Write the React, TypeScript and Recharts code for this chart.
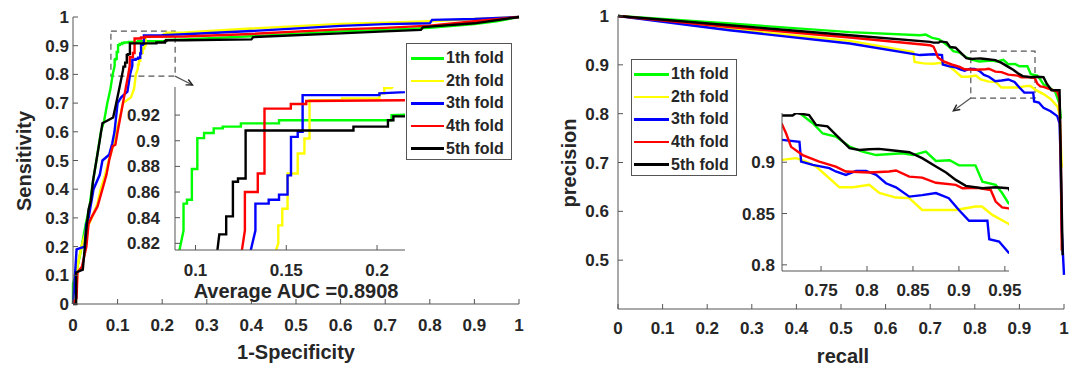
import React from 'react';
import { LineChart, Line, XAxis, YAxis, ReferenceArea, ReferenceLine } from 'recharts';

type Pt = [number, number];

const foldNames = ['1th fold', '2th fold', '3th fold', '4th fold', '5th fold'];
const foldColors = ['#00ff00', '#ffff00', '#0000ff', '#ff0000', '#000000'];

// ROC curves (x = 1-specificity, y = sensitivity)
const rocFold1: Pt[] = [
  [0, 0], [0, 0.07], [0.007, 0.108], [0.018, 0.188], [0.029, 0.282], [0.037, 0.339], [0.044, 0.42],
  [0.0525, 0.5], [0.0625, 0.6], [0.07, 0.64], [0.077, 0.7], [0.084, 0.75], [0.089, 0.8], [0.0934, 0.83],
  [0.0934, 0.851], [0.0953, 0.851], [0.0953, 0.854], [0.098, 0.854], [0.098, 0.878], [0.101, 0.878],
  [0.101, 0.902], [0.1047, 0.902], [0.1047, 0.906], [0.11, 0.906], [0.11, 0.9096], [0.115, 0.9096],
  [0.115, 0.911], [0.125, 0.911], [0.125, 0.9135], [0.146, 0.9135], [0.146, 0.916], [0.208, 0.916],
  [0.208, 0.92], [0.25, 0.922], [0.4, 0.933], [0.6, 0.95], [0.7, 0.955], [0.8, 0.962], [0.9, 0.975],
  [0.95, 0.985], [1, 1],
];
const rocFold2: Pt[] = [
  [0, 0], [0.008, 0.05], [0.01, 0.13], [0.019, 0.2], [0.03, 0.26], [0.042, 0.3], [0.055, 0.35],
  [0.062, 0.4], [0.072, 0.45], [0.08, 0.5], [0.09, 0.55], [0.097, 0.6], [0.105, 0.65], [0.112, 0.7],
  [0.13, 0.72], [0.137, 0.75], [0.141, 0.8], [0.1456, 0.82], [0.1456, 0.834], [0.1478, 0.834],
  [0.1478, 0.847], [0.1507, 0.847], [0.1507, 0.8745], [0.1563, 0.8745], [0.1563, 0.89], [0.16, 0.89],
  [0.16, 0.9018], [0.1628, 0.9018], [0.1628, 0.9317], [0.1807, 0.9317], [0.1807, 0.933], [0.2013, 0.933],
  [0.2013, 0.937], [0.204, 0.937], [0.204, 0.941], [0.208, 0.941], [0.21, 0.945], [0.25, 0.946],
  [0.4, 0.96], [0.6, 0.976], [0.7, 0.98], [0.8, 0.985], [0.9, 0.993], [1, 1],
];
const rocFold3: Pt[] = [
  [0, 0], [0.004, 0.09], [0.008, 0.19], [0.026, 0.2], [0.03, 0.28], [0.035, 0.3], [0.046, 0.4],
  [0.06, 0.45], [0.066, 0.5], [0.081, 0.52], [0.088, 0.56], [0.093, 0.6], [0.1, 0.7], [0.108, 0.72],
  [0.122, 0.74], [0.128, 0.8], [0.133, 0.83], [0.133, 0.851], [0.1403, 0.851], [0.1403, 0.854],
  [0.146, 0.854], [0.146, 0.858], [0.1507, 0.858], [0.1507, 0.873], [0.1526, 0.873], [0.1526, 0.903],
  [0.1563, 0.903], [0.1563, 0.907], [0.159, 0.907], [0.159, 0.9356], [0.2013, 0.9356], [0.2013, 0.937],
  [0.25, 0.94], [0.4, 0.951], [0.6, 0.969], [0.7, 0.975], [0.8, 0.978], [0.805, 0.99], [0.9, 0.993], [1, 1],
];
const rocFold4: Pt[] = [
  [0, 0], [0.008, 0.02], [0.01, 0.11], [0.02, 0.13], [0.03, 0.2], [0.035, 0.28], [0.041, 0.3],
  [0.055, 0.34], [0.066, 0.4], [0.075, 0.45], [0.081, 0.5], [0.089, 0.55], [0.095, 0.555], [0.1, 0.6],
  [0.106, 0.65], [0.112, 0.7], [0.118, 0.75], [0.124, 0.8], [0.1272, 0.83], [0.1272, 0.86], [0.1343, 0.86],
  [0.1343, 0.8745], [0.138, 0.8745], [0.138, 0.925], [0.1525, 0.925], [0.1525, 0.9286], [0.161, 0.9286],
  [0.161, 0.931], [0.25, 0.932], [0.4, 0.941], [0.6, 0.957], [0.7, 0.962], [0.8, 0.97], [0.9, 0.985], [1, 1],
];
const rocFold5: Pt[] = [
  [0, 0], [0.007, 0], [0.007, 0.11], [0.022, 0.12], [0.026, 0.19], [0.03, 0.26], [0.035, 0.33],
  [0.04, 0.36], [0.045, 0.43], [0.0525, 0.5], [0.06, 0.57], [0.066, 0.63], [0.09, 0.65], [0.097, 0.7],
  [0.105, 0.76], [0.112, 0.814], [0.1131, 0.827], [0.1169, 0.827], [0.1169, 0.841], [0.1206, 0.841],
  [0.1206, 0.868], [0.1234, 0.868], [0.1234, 0.8706], [0.1276, 0.8706], [0.1276, 0.908], [0.187, 0.908],
  [0.187, 0.911], [0.206, 0.911], [0.206, 0.916], [0.209, 0.916], [0.209, 0.919], [0.25, 0.919],
  [0.4, 0.922], [0.404, 0.93], [0.6, 0.943], [0.7, 0.95], [0.78, 0.955], [0.785, 0.965], [0.9, 0.978], [1, 1],
];

// precision-recall curves (x = recall, y = precision)
const prFold1: Pt[] = [
  [0, 1], [0.25, 0.9845], [0.52, 0.967], [0.677, 0.9605], [0.69, 0.962], [0.705, 0.955], [0.72, 0.952],
  [0.7265, 0.948], [0.741, 0.938], [0.7518, 0.928], [0.766, 0.925], [0.781, 0.9153], [0.795, 0.9104],
  [0.81, 0.907], [0.8387, 0.9088], [0.85, 0.907], [0.864, 0.9104], [0.875, 0.9013], [0.89, 0.902],
  [0.9, 0.897], [0.918, 0.897], [0.9256, 0.881], [0.94, 0.878], [0.947, 0.87], [0.954, 0.86],
  [0.965, 0.855], [0.98, 0.845], [0.99, 0.82], [0.993, 0.79],
];
const prFold2: Pt[] = [
  [0, 1], [0.25, 0.9735], [0.52, 0.949], [0.662, 0.926], [0.665, 0.906], [0.685, 0.903], [0.7073, 0.9023],
  [0.7228, 0.904], [0.7337, 0.9007], [0.7446, 0.8958], [0.759, 0.8844], [0.77, 0.8756], [0.785, 0.8756],
  [0.8025, 0.878], [0.8134, 0.87], [0.8315, 0.8656], [0.846, 0.865], [0.86, 0.8535], [0.8966, 0.8535],
  [0.918, 0.8568], [0.925, 0.8568], [0.9364, 0.8487], [0.954, 0.84], [0.97, 0.83], [0.985, 0.815],
  [0.99, 0.8], [0.995, 0.69],
];
const prFold3: Pt[] = [
  [0, 1], [0.25, 0.9708], [0.52, 0.9436], [0.677, 0.92], [0.7073, 0.9218], [0.7265, 0.92], [0.7283, 0.9007],
  [0.741, 0.8974], [0.759, 0.8942], [0.766, 0.891], [0.777, 0.8877], [0.788, 0.8915], [0.799, 0.8915],
  [0.81, 0.8877], [0.8206, 0.8795], [0.8315, 0.8756], [0.846, 0.8665], [0.86, 0.868], [0.875, 0.87],
  [0.889, 0.865], [0.9, 0.8535], [0.911, 0.843], [0.931, 0.843], [0.933, 0.825], [0.9437, 0.8227],
  [0.954, 0.812], [0.97, 0.805], [0.985, 0.795], [0.99, 0.78], [0.992, 0.72], [0.995, 0.56], [1, 0.47],
];
const prFold4: Pt[] = [
  [0, 1], [0.25, 0.9775], [0.52, 0.956], [0.7, 0.94], [0.7073, 0.9374], [0.712, 0.928], [0.7174, 0.915],
  [0.73, 0.907], [0.748, 0.9007], [0.766, 0.8958], [0.777, 0.891], [0.8025, 0.89], [0.824, 0.891],
  [0.8315, 0.892], [0.846, 0.886], [0.86, 0.885], [0.875, 0.88], [0.8966, 0.878], [0.904, 0.8747],
  [0.92, 0.875], [0.9346, 0.873], [0.94, 0.8617], [0.947, 0.856], [0.954, 0.855], [0.97, 0.85],
  [0.985, 0.845], [0.99, 0.83], [0.993, 0.7], [0.995, 0.52],
];
const prFold5: Pt[] = [
  [0, 1], [0.25, 0.981], [0.52, 0.9605], [0.7, 0.947], [0.7073, 0.9455], [0.719, 0.9455], [0.7228, 0.948],
  [0.737, 0.946], [0.7446, 0.9364], [0.757, 0.935], [0.766, 0.927], [0.781, 0.9137], [0.7917, 0.912],
  [0.8025, 0.9127], [0.813, 0.913], [0.824, 0.912], [0.846, 0.9098], [0.86, 0.904], [0.875, 0.8958],
  [0.886, 0.89], [0.8966, 0.8828], [0.9075, 0.877], [0.9256, 0.8747], [0.94, 0.8756], [0.954, 0.8747],
  [0.961, 0.862], [0.972, 0.848], [0.99, 0.848], [0.993, 0.7], [0.997, 0.51],
];

const rocFolds = [rocFold1, rocFold2, rocFold3, rocFold4, rocFold5];
const prFolds = [prFold1, prFold2, prFold3, prFold4, prFold5];

const unitTicks = [0, 0.1, 0.2, 0.3, 0.4, 0.5, 0.6, 0.7, 0.8, 0.9, 1];
const prYTicks = [0.5, 0.6, 0.7, 0.8, 0.9, 1];
const rocInsetXTicks = [0.1, 0.15, 0.2];
const rocInsetYTicks = [0.82, 0.84, 0.86, 0.88, 0.9, 0.92];
const prInsetXTicks = [0.75, 0.8, 0.85, 0.9, 0.95];
const prInsetYTicks = [0.8, 0.85, 0.9];

const rocInsetX = [0.0887, 0.2154];
const rocInsetY = [0.8148, 0.9419];
const prInsetX = [0.7075, 0.9545];
const prInsetY = [0.794, 0.948];
const rocZoomBox = { x1: 0.085, x2: 0.229, y1: 0.794, y2: 0.951 };
const prZoomBox = { x1: 0.791, x2: 0.935, y1: 0.832, y2: 0.928 };
const aucLabel = 'Average AUC =0.8908';

const FONT = "'Liberation Sans', Arial, Helvetica, sans-serif";
const INK = '#262626';
const AX = '#555555';
const tickStyle = { fill: INK, fontSize: 17, fontWeight: 700, fontFamily: FONT };
const fmt = (v: number) => String(Number(v.toFixed(2)));
const toPts = (d: Pt[]) => d.map(([x, y]) => ({ x, y }));
const noTick = () => <g />;

function frame(
  xDomain: number[], yDomain: number[], xTicks: number[], yTicks: number[],
  yWidth: number, xHeight: number, xMargin: number, yMargin: number, clip: boolean,
) {
  return [
    <XAxis key="xb" dataKey="x" type="number" domain={xDomain} ticks={xTicks} interval={0}
      allowDataOverflow={clip} height={xHeight} tickSize={-5} tickMargin={xMargin}
      tickFormatter={fmt} tick={tickStyle} axisLine={{ stroke: AX }} tickLine={{ stroke: AX }} />,
    <XAxis key="xt" xAxisId="t" orientation="top" type="number" domain={xDomain} ticks={xTicks}
      interval={0} height={0} tickSize={-5} tick={noTick} axisLine={{ stroke: AX }} tickLine={{ stroke: AX }} />,
    <YAxis key="yl" type="number" domain={yDomain} ticks={yTicks} interval={0}
      allowDataOverflow={clip} width={yWidth} tickSize={-5} tickMargin={yMargin}
      tickFormatter={fmt} tick={tickStyle} axisLine={{ stroke: AX }} tickLine={{ stroke: AX }} />,
    <YAxis key="yr" yAxisId="r" orientation="right" type="number" domain={yDomain} ticks={yTicks}
      interval={0} width={0} tickSize={-5} tick={noTick} axisLine={{ stroke: AX }} tickLine={{ stroke: AX }} />,
  ];
}

function lines(folds: Pt[][]) {
  return folds.map((d, i) => (
    <Line key={foldNames[i]} data={toPts(d)} dataKey="y" type="linear" stroke={foldColors[i]}
      strokeWidth={2.4} dot={false} activeDot={false} isAnimationActive={false} />
  ));
}

const arrowShape = (p: any) => {
  const { x1, y1, x2, y2 } = p;
  const a = Math.atan2(y2 - y1, x2 - x1);
  const h = 7;
  const l1 = { x: x2 - h * Math.cos(a - 0.45), y: y2 - h * Math.sin(a - 0.45) };
  const l2 = { x: x2 - h * Math.cos(a + 0.45), y: y2 - h * Math.sin(a + 0.45) };
  return (
    <g>
      <line x1={x1} y1={y1} x2={x2} y2={y2} stroke="#555" strokeWidth={1.2} />
      <path d={`M${l1.x},${l1.y} L${x2},${y2} L${l2.x},${l2.y}`} stroke="#222" strokeWidth={1.4} fill="none" />
    </g>
  );
};

function Legend({ left, top, lineLeft, lineWidth }: { left: number; top: number; lineLeft: number; lineWidth: number }) {
  return (
    <div style={{
      position: 'absolute', left, top, width: 106, height: 117, border: `1px solid ${AX}`,
      background: '#fff', boxSizing: 'border-box', zIndex: 3, paddingTop: 3,
    }}>
      {foldNames.map((n, i) => (
        <div key={n} style={{ height: 22.6, display: 'flex', alignItems: 'center' }}>
          <div style={{ marginLeft: lineLeft, width: lineWidth, height: 2.5, background: foldColors[i] }} />
          <span style={{ marginLeft: 2, fontFamily: FONT, fontWeight: 700, fontSize: 16, color: INK }}>{n}</span>
        </div>
      ))}
    </div>
  );
}

const txt = (s: string, x: number, y: number, size: number, rot = 0) => (
  <div style={{
    position: 'absolute', left: x, top: y, transform: `translate(-50%, -50%) rotate(${rot}deg)`,
    fontFamily: FONT, fontWeight: 700, fontSize: size, color: INK, whiteSpace: 'nowrap', zIndex: 4,
  }}>{s}</div>
);

export default function App() {
  return (
    <div style={{ position: 'absolute', left: 0, top: 0, width: 1077, height: 367, background: '#fff', overflow: 'hidden' }}>
      {/* ROC main */}
      <div style={{ position: 'absolute', left: 0, top: 0, zIndex: 0 }}>
        <LineChart width={540} height={367} margin={{ top: 17, right: 21, bottom: 0, left: 0 }}>
          {frame([0, 1], [0, 1], unitTicks, unitTicks, 73, 63, 20, 9, false)}
          {lines(rocFolds)}
          <ReferenceArea {...rocZoomBox} fill="none" stroke="#555" strokeWidth={1.2} strokeDasharray="6 4" />
          <ReferenceLine segment={[{ x: 0.2287, y: 0.794 }, { x: 0.268, y: 0.763 }]} shape={arrowShape} />
        </LineChart>
      </div>
      {/* ROC inset */}
      <div style={{ position: 'absolute', left: 175, top: 87, width: 225, height: 163, background: '#fff', zIndex: 1 }} />
      <div style={{ position: 'absolute', left: 105, top: 85, zIndex: 2 }}>
        <LineChart width={320} height={195} margin={{ top: 2, right: 20, bottom: 0, left: 0 }}>
          {frame(rocInsetX, rocInsetY, rocInsetXTicks, rocInsetYTicks, 70, 30, 19, 20, true)}
          {lines(rocFolds)}
        </LineChart>
      </div>
      <Legend left={406} top={43} lineLeft={4} lineWidth={33} />
      {txt(aucLabel, 296, 291, 20)}
      {txt('Sensitivity', 24, 161, 20, -90)}
      {txt('1-Specificity', 296, 352, 20)}

      {/* PR main */}
      <div style={{ position: 'absolute', left: 540, top: 0, zIndex: 0 }}>
        <LineChart width={537} height={367} margin={{ top: 16, right: 13, bottom: 0, left: 0 }}>
          {frame([0, 1], [0.4, 1], unitTicks, prYTicks, 78, 58, 18, 14, false)}
          {lines(prFolds)}
          <ReferenceArea {...prZoomBox} fill="none" stroke="#555" strokeWidth={1.2} strokeDasharray="6 4" />
          <ReferenceLine segment={[{ x: 0.791, y: 0.832 }, { x: 0.752, y: 0.806 }]} shape={arrowShape} />
        </LineChart>
      </div>
      {/* PR inset */}
      <div style={{ position: 'absolute', left: 782, top: 113, width: 227, height: 158, background: '#fff', zIndex: 1 }} />
      <div style={{ position: 'absolute', left: 712, top: 111, zIndex: 2 }}>
        <LineChart width={322} height={190} margin={{ top: 2, right: 25, bottom: 0, left: 0 }}>
          {frame(prInsetX, prInsetY, prInsetXTicks, prInsetYTicks, 70, 30, 18, 12, true)}
          {lines(prFolds)}
        </LineChart>
      </div>
      <Legend left={631} top={59} lineLeft={2} lineWidth={35} />
      {txt('precision', 569, 163, 20, -90)}
      {txt('recall', 843, 356, 20)}
    </div>
  );
}
